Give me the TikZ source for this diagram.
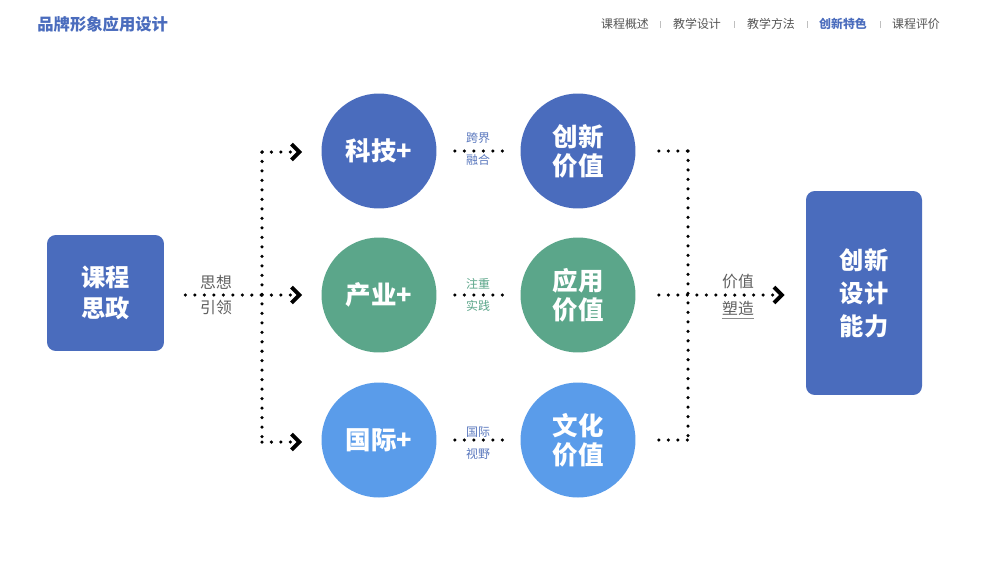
\documentclass[tikz,border=0pt]{standalone}
\usepackage{fontspec}
\setmainfont{Noto Sans CJK SC}
\usetikzlibrary{arrows.meta}
\definecolor{dblue}{HTML}{4A6CBD}
\definecolor{dgreen}{HTML}{5BA68A}
\definecolor{lblue}{HTML}{5A9CEA}
\definecolor{navgray}{HTML}{555555}
\definecolor{lblgray}{HTML}{606060}
\definecolor{lblblue}{HTML}{5A78BE}
\tikzset{
  x=0.02cm, y=-0.02cm,
  dotline/.style={line width=2pt, line cap=round, dash pattern=on 0pt off 5.4pt, black},
  dotarrow/.style={dotline, -{Straight Barb[length=4.5pt,width=9pt,line width=2.2pt]}},
  circ/.style={circle, minimum size=2.3cm, inner sep=0pt, text=white, font=\fontsize{14.5}{16.5}\selectfont\bfseries, align=center},
  bigbox/.style={rounded corners=5pt, inner sep=0pt, fill=dblue, text=white, font=\fontsize{13.8}{18}\selectfont\bfseries, align=center},
  small/.style={font=\fontsize{6.8}{8}\selectfont, inner sep=0pt},
  mid/.style={font=\fontsize{9}{10}\selectfont, text=lblgray, inner sep=0pt},
  nav/.style={font=\fontsize{6.8}{8}\selectfont, text=navgray, inner sep=0pt},
  sep/.style={draw=black!25, line width=0.5pt}
}
\begin{document}
\begin{tikzpicture}
\useasboundingbox (0,0) rectangle (1000,562);
\fill[white] (0,0) rectangle (1000,562);
% header
\node[anchor=west, inner sep=0pt, text=dblue, font=\fontsize{9.3}{11}\selectfont\bfseries] (title) at (37,24) {品牌形象应用设计};
\node[nav] (n1) at (625,24) {课程概述};
\node[nav] (n2) at (697,24) {教学设计};
\node[nav] (n3) at (771,24) {教学方法};
\node[nav, text=dblue, font=\fontsize{6.8}{8}\selectfont\bfseries] (n4) at (843,24) {创新特色};
\node[nav] (n5) at (916,24) {课程评价};
\foreach \x in {660,734,807,880}{\draw[sep] (\x,21) -- (\x,28);}
% left box
\node[bigbox, minimum width=2.34cm, minimum height=2.32cm] (kz) at (105.5,293) {课程\\思政};
% circles
\node[circ, fill=dblue] (c1) at (379,151) {科技+};
\node[circ, fill=dgreen] (c2) at (379,295) {产业+};
\node[circ, fill=lblue] (c3) at (379,440) {国际+};
\node[circ, fill=dblue] (v1) at (578,151) {创新\\价值};
\node[circ, fill=dgreen] (v2) at (578,295) {应用\\价值};
\node[circ, fill=lblue] (v3) at (578,440) {文化\\价值};
% right box
\node[bigbox, minimum width=2.32cm, minimum height=4.08cm, font=\fontsize{13.8}{18.8}\selectfont\bfseries] (cx) at (864,293) {创新\\设计\\能力};
% junction coordinates
\coordinate (jl) at (262,295);
\coordinate (jt) at (262,152);
\coordinate (jb) at (262,442);
\coordinate (rt) at (688,151);
\coordinate (rm) at (688,295);
\coordinate (rb) at (688,440);
% left connectors
\draw[dotline, shorten <=21*0.02cm] (kz.east |- jl) -- (jl);
\draw[dotline] (jt) -- (jb);
\draw[dotarrow, shorten >=19*0.02cm] (jt) -- (c1.west |- jt);
\draw[dotarrow, shorten >=19*0.02cm] (jl) -- (c2.west |- jl);
\draw[dotarrow, shorten >=19*0.02cm] (jb) -- (c3.west |- jb);
% middle connectors
\draw[dotline, shorten <=18*0.02cm, shorten >=16*0.02cm] (c1.east) -- (v1.west);
\draw[dotline, shorten <=18*0.02cm, shorten >=16*0.02cm] (c2.east) -- (v2.west);
\draw[dotline, shorten <=18*0.02cm, shorten >=16*0.02cm] (c3.east) -- (v3.west);
\node[small, text=lblblue] (l1a) at (478,138) {跨界};
\node[small, text=lblblue] (l1b) at (478,160) {融合};
\node[small, text=dgreen] (l2a) at (478,284) {注重};
\node[small, text=dgreen] (l2b) at (478,306) {实践};
\node[small, text=lblblue] (l3a) at (478,432) {国际};
\node[small, text=lblblue] (l3b) at (478,454) {视野};
% right connectors
\draw[dotline, shorten <=23*0.02cm] (v1.east) -- (rt);
\draw[dotline, shorten <=23*0.02cm] (v3.east) -- (rb);
\draw[dotline] (rt) -- (rb);
\draw[dotarrow, shorten <=23*0.02cm, shorten >=21*0.02cm] (v2.east) -- (cx.west |- rm);
% mid labels
\node[mid] (t1) at (216,282) {思想};
\node[mid] (t2) at (216,308) {引领};
\node[mid] (t3) at (738,282) {价值};
\node[mid] (t4) at (738,308) {塑造};
\draw[black!45, line width=0.4pt] ([yshift=-3*0.02cm]t4.south west) -- ([yshift=-3*0.02cm]t4.south east);
\end{tikzpicture}
\end{document}
